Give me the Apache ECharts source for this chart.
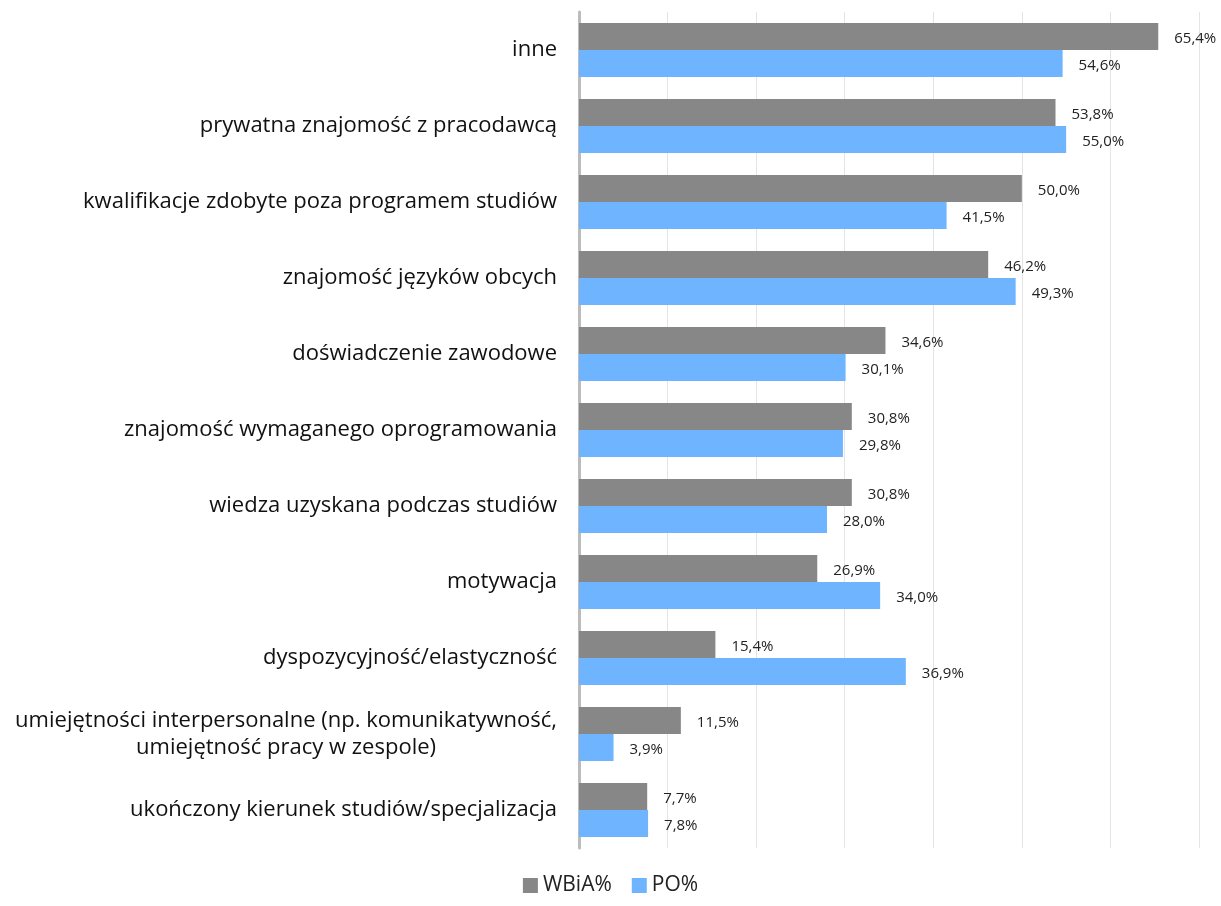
<!DOCTYPE html>
<html>
<head>
<meta charset="utf-8">
<script src="https://cdn.jsdelivr.net/npm/echarts@6/dist/echarts.min.js"></script>
<style>
    html, body { margin: 0; padding: 0; background: #fff; }
    #chart { width: 1221px; height: 906px; }
</style>
</head>
<body>
<div id="chart"></div>
<script>
// kategorie od góry do dołu
const categories = [
    'inne',
    'prywatna znajomość z pracodawcą',
    'kwalifikacje zdobyte poza programem studiów',
    'znajomość języków obcych',
    'doświadczenie zawodowe',
    'znajomość wymaganego oprogramowania',
    'wiedza uzyskana podczas studiów',
    'motywacja',
    'dyspozycyjność/elastyczność',
    'umiejętności interpersonalne (np. komunikatywność,\numiejętność pracy w zespole)',
    'ukończony kierunek studiów/specjalizacja',
];
const wbiaValues = [65.4, 53.8, 50.0, 46.2, 34.6, 30.8, 30.8, 26.9, 15.4, 11.5, 7.7];
const poValues = [54.6, 55.0, 41.5, 49.3, 30.1, 29.8, 28.0, 34.0, 36.9, 3.9, 7.8];
const seriesNames = ['WBiA%', 'PO%'];

const FONT = '"Open Sans", "Noto Sans", sans-serif';

const chart = echarts.init(document.getElementById('chart'));

function pctLabel(p) {
    return p.value.toFixed(1).replace('.', ',') + '%';
}

const labelStyle = {
    show: true,
    position: 'right',
    distance: 16,
    offset: [0, 2],
    color: '#222',
    fontSize: 15,
    fontFamily: FONT,
    formatter: pctLabel,
};

chart.setOption({
    animation: false,
    color: ['#878787', '#6fb4fe'],
    grid: {
        left: 579,
        right: 22,
        top: 12,
        bottom: 58,
    },
    legend: {
        bottom: 5,
        left: 'center',
        itemWidth: 15,
        itemHeight: 15,
        itemGap: 20,
        icon: 'rect',
        textStyle: { fontSize: 21, color: '#222', fontFamily: FONT },
        data: seriesNames,
    },
    xAxis: {
        type: 'value',
        min: 0,
        max: 70,
        interval: 10,
        axisLabel: { show: false },
        axisLine: { show: false },
        axisTick: { show: false },
        splitLine: { lineStyle: { color: '#e4e4e4', width: 1 } },
    },
    yAxis: {
        type: 'category',
        inverse: true,
        data: categories,
        axisLine: { show: true, lineStyle: { color: '#bcbcbc', width: 3 } },
        axisTick: { show: false },
        axisLabel: {
            margin: 22,
            formatter: function (v) {
                return v.split('\n').map(function (s) { return '{c|' + s + '}'; }).join('\n');
            },
            rich: {
                c: {
                    fontSize: 22,
                    lineHeight: 27,
                    color: '#111',
                    fontFamily: FONT,
                    align: 'center',
                },
            },
        },
    },
    series: [
        {
            name: seriesNames[0],
            type: 'bar',
            data: wbiaValues,
            barWidth: 27,
            barGap: '0%',
            label: labelStyle,
        },
        {
            name: seriesNames[1],
            type: 'bar',
            data: poValues,
            barWidth: 27,
            barGap: '0%',
            label: labelStyle,
        },
    ],
});
</script>
</body>
</html>
